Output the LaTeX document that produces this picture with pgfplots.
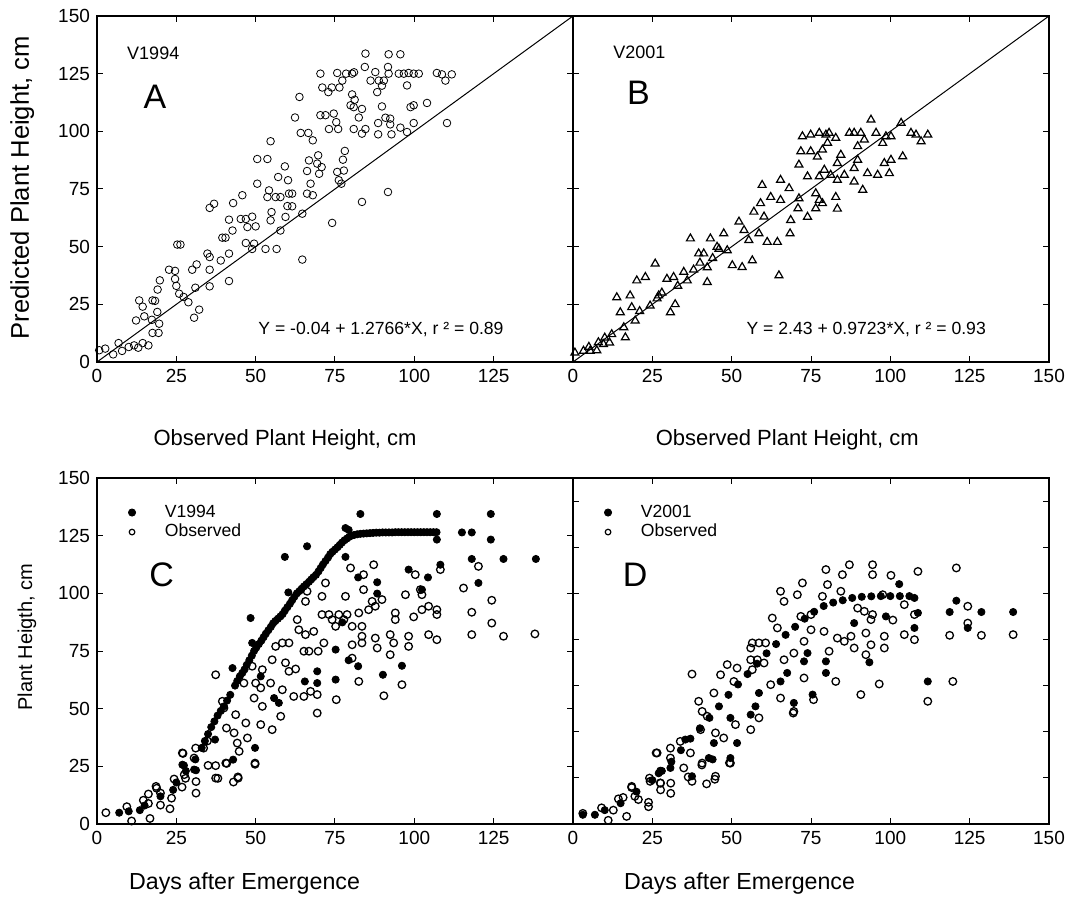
\documentclass[border=0pt]{standalone}
\usepackage{fontspec}
\setmainfont{Liberation Sans}
\usepackage{pgfplots}
\usepackage{pgfplotstable}
\pgfplotsset{compat=1.18}

% panel A: observed vs predicted, V1994
\pgfplotstableread{
x y
0.7 5.1
2.6 5.8
5.1 3.3
6.8 8.2
7.9 4.8
10.0 6.5
11.7 7.2
13.0 6.2
14.4 8.2
16.2 7.2
12.3 18.0
13.3 26.7
14.4 24.0
14.9 19.8
17.5 26.7
18.3 26.5
17.3 18.3
19.0 21.7
19.6 16.6
17.5 12.6
19.4 12.6
19.1 31.4
19.8 35.4
22.7 40.0
24.6 39.5
24.6 36.0
25.0 33.0
25.9 29.6
27.3 28.2
28.8 25.9
25.3 50.9
26.3 50.9
30.0 40.0
31.4 42.3
31.0 32.2
32.2 22.7
30.6 19.2
34.8 47.0
35.5 45.5
35.5 40.0
35.5 32.8
39.0 44.0
35.5 66.8
36.9 68.6
39.5 53.9
40.5 53.9
41.6 47.0
41.6 35.1
41.6 61.7
42.7 57.0
42.9 68.9
45.8 72.3
45.3 62.0
46.9 62.0
48.9 63.0
47.4 58.5
50.0 58.8
46.9 51.6
49.5 51.3
48.9 49.0
53.1 49.0
56.6 49.0
50.5 77.3
50.5 88.0
53.7 88.0
54.7 95.7
53.7 71.5
54.2 74.4
56.3 71.5
57.8 71.5
59.2 84.8
57.1 80.2
60.2 78.8
60.5 73.0
61.5 73.0
60.0 67.6
61.5 67.5
55.0 65.0
54.7 61.4
59.4 62.9
57.8 57.0
64.7 64.3
63.8 114.9
62.4 106.0
64.2 99.3
66.6 99.3
68.0 96.1
69.7 89.6
66.8 87.4
66.2 82.8
67.3 77.3
68.0 72.3
66.2 73.0
69.4 86.0
70.8 84.5
70.0 81.6
64.7 44.4
74.1 60.3
70.4 125.0
71.0 119.0
72.9 117.0
70.4 107.0
72.0 107.0
73.1 101.0
74.6 107.7
75.4 104.0
76.0 101.0
75.7 125.3
77.3 122.0
78.5 125.0
76.4 119.0
74.0 119.0
75.7 82.4
76.2 78.8
77.0 77.3
77.5 87.7
78.1 91.5
77.8 83.0
80.4 125.0
81.0 125.6
80.4 116.0
81.2 113.7
79.9 111.3
80.9 110.5
82.5 106.0
83.5 109.7
80.9 101.0
83.5 99.0
84.6 101.0
83.5 69.4
84.6 133.7
84.4 127.9
86.2 122.0
87.7 125.7
88.3 117.0
88.8 122.0
89.8 119.8
90.4 122.0
89.8 110.8
88.6 103.6
88.6 98.7
90.9 105.9
92.4 105.5
91.7 73.7
91.7 127.9
91.9 133.4
91.9 125.0
92.4 103.0
92.8 98.7
95.6 133.4
95.1 125.0
96.7 125.0
98.2 125.3
97.7 119.9
99.8 125.0
101.4 125.0
95.6 101.6
97.7 99.7
98.8 110.5
99.8 111.3
99.8 103.6
104.0 112.3
107.1 125.3
108.7 124.7
109.8 122.0
111.8 124.7
110.3 103.6
}\dataA

% panel B: observed vs predicted, V2001
\pgfplotstableread{
x y
0.6 4.0
3.3 4.8
5.4 4.8
7.5 5.0
9.6 7.7
11.5 8.4
12.2 12.0
5.0 6.5
8.0 8.5
10.0 10.5
13.8 28.0
18.0 28.8
20.1 35.3
22.8 36.8
25.9 42.6
14.9 21.5
18.5 23.7
19.6 17.9
16.0 15.0
16.5 10.6
21.0 22.0
24.3 24.4
26.5 27.5
27.0 28.8
28.0 30.0
29.6 36.0
31.7 36.8
30.7 21.5
32.2 25.0
33.0 33.0
34.9 39.0
36.0 35.3
37.0 53.5
38.0 40.0
39.6 47.0
40.0 43.0
41.2 47.0
42.3 41.0
42.3 34.6
43.3 53.5
44.0 45.0
45.4 49.9
46.0 49.0
47.5 55.7
48.6 48.4
50.2 41.9
52.3 60.8
53.3 41.1
56.5 44.0
53.9 57.1
55.4 52.8
57.0 65.1
59.6 76.7
59.1 68.8
60.2 63.0
58.6 55.7
61.2 52.0
62.3 71.5
64.4 52.0
65.4 78.9
65.4 70.2
64.9 37.5
68.1 75.3
68.6 61.5
68.4 55.7
70.9 66.6
71.2 70.9
71.8 91.3
71.2 85.5
72.3 97.8
74.9 98.5
77.6 99.3
79.7 98.5
80.7 99.3
82.8 97.1
73.9 80.4
74.9 91.3
77.0 89.0
78.6 92.0
80.2 95.0
77.6 80.4
79.2 83.3
76.5 73.1
77.6 70.2
78.6 68.8
76.5 66.6
73.9 62.9
82.8 71.5
83.3 66.4
81.2 81.1
83.3 86.2
84.4 89.8
85.5 81.1
83.3 78.9
87.1 99.3
88.6 99.3
90.7 99.3
91.8 96.4
89.7 93.5
88.6 84.0
88.6 78.2
89.7 87.6
91.3 74.6
92.8 81.8
93.9 105.0
95.5 99.3
96.0 81.1
97.6 94.9
98.6 97.8
100.2 97.8
98.1 86.2
100.2 87.6
99.7 81.8
103.9 89.1
103.4 103.6
106.5 99.3
108.1 98.5
109.7 95.6
111.8 98.5
}\dataB

% panel C: simulated V1994 over time
\pgfplotstableread{
x y
7.0 4.9
13.5 6.0
10 5.5
15 8
20 12
24.0 14.8
25 18
28 23
31 28
33 33
34 36
35 39
36 42
37 44.5
38 47
39 49
40 51
41 53.5
42 56
43.5 60
44.2 62
45 64
45.8 65.5
46.5 67
47.2 69
48 71
48.8 73
49.5 75
50.2 76.5
51 78
51.8 79.5
52.5 81
53.2 82.5
54 84
54.8 85.5
55.5 87
56.2 88
57 89
57.8 90
58.5 91
59.2 92.5
60 94
60.8 95.5
61.5 97
62.2 98.5
63 100
63.8 101
64.5 102
65.2 103
66 104
66.8 105
67.5 106
68.2 107
69 108
69.8 109.5
70.5 111
71.2 112.5
72 114
72.8 115.5
73.5 117
74.2 118
75 119
75.8 120
76.5 121
77.2 122
78 123
78.8 123.8
79.5 124.5
80.2 125
81 125.3
82 125.6
83 125.8
84 125.9
85 126
86 126.1
87 126.2
88 126.3
89 126.3
90 126.4
91 126.4
92 126.4
93 126.4
94 126.5
95 126.5
96 126.5
97 126.5
98 126.5
99 126.5
100 126.5
101 126.5
102 126.5
103 126.5
104 126.5
105 126.5
106 126.5
107 126.5
83.0 134.4
107.1 134.4
124.1 134.4
78.3 128.3
79.3 127.5
107.1 123.3
115.0 126.4
118.1 126.4
124.1 123.3
66.2 120.4
59.2 115.8
78.3 115.8
118.1 114.9
128.1 114.9
138.3 114.9
108.2 112.4
98.2 110.3
104.3 106.9
82.3 106.9
88.3 104.8
120.2 104.5
102.4 101.6
88.3 99.9
60.3 100.4
48.4 89.3
48.9 78.5
77.3 87.4
75.2 75.6
79.3 71.0
82.3 68.4
96.1 68.6
90.1 64.7
75.2 62.6
69.4 66.2
69.4 61.1
65.5 61.8
42.7 67.6
55.8 54.6
57.3 52.5
51.6 64.0
49.8 33.0
42.9 27.9
30.6 23.6
26.9 25.7
37.2 36.6
27.4 25.4
31.2 23.3
}\simC

% panel C: observed
\pgfplotstableread{
x y
37.4 64.7
39.5 53.2
40.0 50.3
40.8 41.6
43.7 47.4
43.2 39.5
44.2 35.1
46.9 43.8
44.8 31.5
47.4 37.3
51.6 43.1
55.2 40.9
57.9 46.7
49.8 26.4
44.5 19.9
40.6 26.4
37.4 25.3
37.4 19.9
34.8 36.0
33.6 32.9
31.1 32.9
30.6 28.6
26.9 30.8
27.5 21.4
24.3 19.5
18.6 16.3
46.3 61.1
48.9 68.4
50.0 61.1
52.1 66.9
49.5 54.6
51.6 59.0
52.1 51.0
54.7 61.1
58.4 58.2
55.2 71.2
56.3 77.0
58.4 78.5
60.5 78.5
59.4 69.9
60.5 66.2
62.6 67.2
62.0 55.3
65.2 55.3
67.3 57.5
69.4 56.1
69.4 48.1
75.4 53.9
82.5 61.8
90.4 55.6
96.1 60.4
63.1 88.6
63.6 84.2
65.7 82.1
65.7 96.5
66.2 100.9
65.2 74.9
66.8 74.9
68.3 83.5
69.7 74.9
71.5 78.5
70.9 90.8
72.0 104.5
70.9 98.7
73.1 90.8
74.1 88.6
75.2 85.7
76.2 90.8
77.8 88.6
78.8 90.8
78.3 98.7
80.4 85.7
80.4 77.7
80.4 71.9
79.9 111.0
84.0 108.1
87.2 112.4
84.0 101.6
82.5 91.5
85.6 92.9
86.7 96.5
87.7 94.4
89.8 97.3
83.5 85.7
83.5 81.4
83.5 78.5
87.7 80.6
88.3 76.3
92.4 82.1
93.5 78.5
92.4 73.4
94.0 91.5
94.0 88.6
97.2 99.4
98.2 81.4
98.2 77.0
99.8 89.8
100.3 108.1
101.9 101.6
102.4 99.4
102.4 92.9
104.5 94.4
104.5 82.1
107.1 92.9
107.1 90.8
107.1 79.9
108.2 110.3
115.5 102.3
118.1 91.8
118.1 82.1
120.2 111.7
124.4 97.0
124.4 87.1
128.1 81.4
138.0 82.4
2.8 4.9
9.4 7.5
10.9 1.3
14.6 10.3
16.2 8.9
16.7 2.4
16.2 13.0
18.8 15.5
20.0 13.4
20.0 8.2
23.0 6.6
23.5 11.2
27.9 19.8
26.8 16.0
31.2 18.4
31.2 13.4
27.1 30.6
35.0 25.4
38.1 19.8
40.9 26.3
44.4 20.4
43.0 18.2
49.8 25.9
}\obsC

% panel D: simulated V2001 over time
\pgfplotstableread{
x y
3.1 4.0
6.9 4.0
10 6
15 9
20 14
25 19
28 23
31 27
34 32
37 37
40 41.5
43 46
46 51
49 56
52 60.5
55 65
58 69.5
61 74
64 78
67 82
70 85.5
73 89
76 92
79 94.5
82 96
85 97
88 98
91 98.5
94 98.7
97 98.8
100 98.8
103 98.8
106 98.8
102.8 104.0
107.6 98.0
108.7 91.5
107.6 85.0
120.8 96.8
118.7 91.9
124.4 85.0
128.7 91.9
138.7 91.9
111.8 61.8
98.6 90.0
88.6 87.1
93.4 70.1
79.7 65.5
79.7 70.5
72.8 70.5
73.9 74.1
65.4 61.8
67.5 65.5
69.6 52.5
75.5 56.1
58.6 56.8
57.5 51.0
56.0 47.4
49.6 46.0
51.7 35.1
44.4 35.1
42.8 28.6
49.6 28.6
37.5 20.7
30.7 24.3
27.5 23.1
35.4 36.6
27.0 22.0
44.0 28.0
}\simD

% panel D: observed
\pgfplotstableread{
x y
37.5 65.0
39.6 53.2
40.7 48.8
42.3 46.7
44.4 56.8
46.5 64.7
48.6 69.1
50.7 61.8
51.7 67.6
56.0 76.3
56.5 78.5
58.6 78.5
60.7 78.5
56.0 71.2
58.1 71.2
60.2 69.8
56.5 66.9
62.3 60.4
65.4 54.6
69.6 48.8
62.8 89.3
64.4 85.0
65.4 100.9
66.5 96.5
70.7 99.4
72.3 104.5
66.5 71.2
69.6 74.1
71.8 90.0
72.8 79.2
75.0 84.2
75.0 90.8
78.6 98.7
79.7 110.3
80.2 103.8
84.4 100.9
84.9 108.1
87.1 112.4
79.1 83.5
80.7 74.9
83.3 80.6
85.5 79.2
87.6 81.4
88.6 76.3
92.3 82.8
92.3 73.4
93.9 77.7
94.4 108.1
94.4 112.4
89.7 93.6
91.8 92.2
94.4 90.8
93.9 88.6
97.6 99.4
100.2 107.8
100.8 88.4
98.1 81.4
98.1 76.3
104.4 82.1
107.6 79.9
108.7 109.5
104.4 95.1
107.6 90.8
120.8 111.0
118.7 81.8
124.4 94.4
124.4 87.1
128.7 81.8
138.7 82.1
119.7 61.8
111.8 53.2
82.8 61.8
90.7 56.1
96.5 60.7
72.8 63.3
75.8 53.9
69.4 48.1
58.6 46.0
56.0 40.9
51.2 43.1
47.5 37.3
44.9 39.5
40.2 40.9
37.0 30.8
33.8 35.8
30.7 32.9
26.5 30.8
30.7 28.6
34.9 24.3
37.5 18.5
40.7 26.4
44.9 20.7
49.6 26.4
27.5 17.8
24.3 18.5
18.5 16.3
3.1 4.6
9.0 7.0
11.1 1.6
12.7 6.0
14.3 10.9
15.8 11.5
16.9 3.3
18.5 15.8
19.5 12.0
20.6 10.6
23.8 9.4
23.8 7.5
24.1 19.9
27.6 17.7
27.6 14.8
30.8 17.7
30.8 13.3
26.2 30.8
36.3 20.4
42.1 17.4
44.7 19.4
40.6 25.6
49.3 26.5
}\obsD

\pgfplotsset{
  panel/.style={
    scale only axis, width=238pt, height=173pt,
    xmin=0, xmax=150, ymin=0, ymax=150,
    axis line style={line width=0.6pt},
    tick align=inside, tick pos=both,
    major tick length=3pt,
    tick style={black, line width=0.5pt},
    /pgf/number format/assume math mode=true,
    ticklabel style={font=\fontsize{9.5}{11}\selectfont},
    label style={font=\fontsize{11}{13}\selectfont},
    clip=true,
  },
  open/.style={only marks, mark=o, mark size=1.9pt, mark options={line width=0.65pt, black}},
  full/.style={only marks, mark=*, mark size=1.8pt, mark options={black, fill=black}},
  tri/.style={only marks, mark=triangle, mark size=2.3pt, mark options={line width=0.6pt, black}},
  leg/.style={
    legend style={at={(axis description cs:0.06,0.935)}, anchor=north west, draw=none, fill=none,
      font=\fontsize{8.8}{9}\selectfont, row sep=-2pt, inner sep=0pt},
    legend cell align=left,
    legend image code/.code={\path (-0.1cm,0cm) (0.5cm,0cm); \draw[##1] plot coordinates {(0cm,0cm)};},
  },
}
\tikzset{
  eqn/.style={font=\fontsize{8.8}{10}\selectfont, anchor=center},
  tag/.style={font=\fontsize{9}{10}\selectfont, anchor=west},
  big/.style={font=\fontsize{17}{19}\selectfont, anchor=center},
}

\begin{document}
\begin{tikzpicture}

% frame with the proportions of the reference
\path (-48.5pt,-274pt) rectangle (490.5pt,181pt);

% A
\begin{axis}[panel, at={(0pt,0pt)}, anchor=south west,
  xtick={0,25,...,125}, ytick={0,25,...,150},
  ylabel={Predicted Plant Height, cm},
  ylabel style={at={(axis description cs:-0.157,0.504)}, anchor=center, font=\fontsize{12.8}{14}\selectfont},
  xlabel={Observed Plant Height, cm},
  xlabel style={at={(axis description cs:0.395,0)}, yshift=-39pt, anchor=center},
]
\addplot[black, line width=0.5pt] coordinates {(0,0) (150,150)};
\addplot[open, mark options={fill=white}] table {\dataA};
\node[tag] at (axis cs:7.3,134) {V1994};
\node[big] at (axis cs:18.3,115) {A};
\node[eqn] at (axis cs:89.5,13.9) {Y = -0.04 + 1.2766*X, r ² = 0.89};
\end{axis}

% B
\begin{axis}[panel, at={(238pt,0pt)}, anchor=south west,
  xtick={0,25,...,150}, ytick={0,25,...,150}, yticklabels={},
  xlabel={Observed Plant Height, cm},
  xlabel style={at={(axis description cs:0.45,0)}, yshift=-39pt, anchor=center},
]
\addplot[black, line width=0.5pt] coordinates {(0,0) (150,150)};
\addplot[tri] table {\dataB};
\node[tag] at (axis cs:10.5,134.4) {V2001};
\node[big] at (axis cs:20.6,116.5) {B};
\node[eqn] at (axis cs:92.4,13.9) {Y = 2.43 + 0.9723*X, r ² = 0.93};
\end{axis}

% C
\begin{axis}[panel, leg, at={(0pt,-231pt)}, anchor=south west,
  xtick={0,25,...,125}, ytick={0,25,...,150},
  ylabel={Plant Heigth, cm},
  ylabel style={at={(axis description cs:-0.147,0.54)}, anchor=center, font=\fontsize{10}{12}\selectfont},
  xlabel={Days after Emergence},
  xlabel style={at={(axis description cs:0.31,0)}, yshift=-30pt, anchor=center, font=\fontsize{11.6}{13}\selectfont},
]
\addplot[open, forget plot] table {\obsC};
\addplot[full] table {\simC};
\addlegendentry{V1994}
\addlegendimage{only marks, mark=o, mark size=1.4pt, mark options={line width=0.6pt, black}}
\addlegendentry{Observed}
\node[big] at (axis cs:20.4,108.2) {C};
\end{axis}

% D
\begin{axis}[panel, leg, at={(238pt,-231pt)}, anchor=south west,
  xtick={0,25,...,150}, ytick={0,20,...,140}, yticklabels={},
  xlabel={Days after Emergence},
  xlabel style={at={(axis description cs:0.35,0)}, yshift=-30pt, anchor=center, font=\fontsize{11.6}{13}\selectfont},
]
\addplot[open, forget plot] table {\obsD};
\addplot[full] table {\simD};
\addlegendentry{V2001}
\addlegendimage{only marks, mark=o, mark size=1.4pt, mark options={line width=0.6pt, black}}
\addlegendentry{Observed}
\node[big] at (axis cs:19.6,108) {D};
\end{axis}

\end{tikzpicture}
\end{document}
